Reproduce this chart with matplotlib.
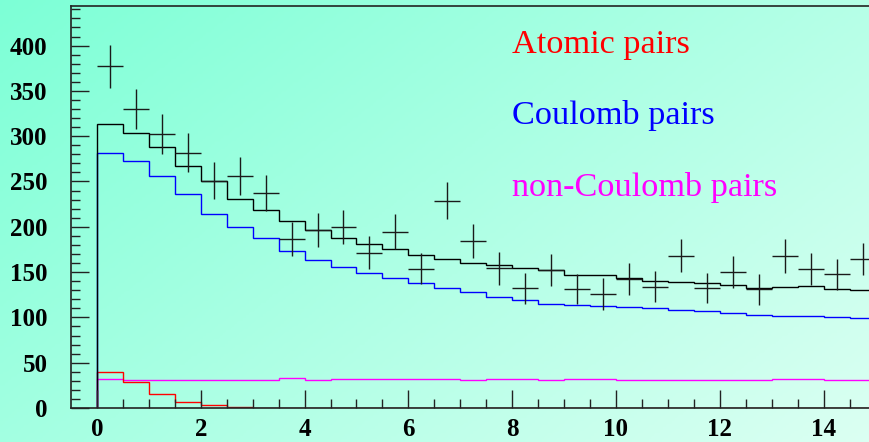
import numpy as np
import matplotlib
matplotlib.use("Agg")
import matplotlib.pyplot as plt
from matplotlib.colors import LinearSegmentedColormap

# bin edges: 30 bins of width 0.5 from 0 to 15
bin_edges = np.arange(0, 15.01, 0.5)
bin_centers = bin_edges[:-1] + 0.25

total_pairs = [313, 304, 288, 267, 251, 231, 219, 206, 196, 188,
               181, 175, 168.5, 164, 160, 158, 154, 152, 147, 146.5,
               144, 140.5, 139, 137.6, 135.8, 132, 134, 135, 131.7, 130.6]
coulomb_pairs = [281.5, 272.6, 256.4, 235.8, 214.5, 199.8, 188, 173, 163, 156,
                 148.6, 143, 137.6, 132, 128, 123, 119, 115, 113.5, 113,
                 112, 110, 108, 107, 105, 102.5, 102, 101.5, 100, 99.3]
atomic_pairs = [39.4, 28.4, 15, 6.3, 3, 1.1, 0.4, 0.4, 0.4, 0,
                0, 0, 0, 0, 0, 0, 0, 0, 0, 0,
                0, 0, 0, 0, 0, 0, 0, 0, 0, 0]
noncoulomb_pairs = [32, 31.3, 31.3, 31.3, 31.3, 31.3, 31.3, 32.7, 31.3, 31.8,
                    31.8, 31.8, 31.5, 31.5, 30.9, 31.8, 31.8, 30.9, 31.8, 31.8,
                    31.3, 31.3, 31.3, 30.5, 30.5, 30.5, 31.8, 31.8, 31.3, 30.5]

data_counts = [377, 329.7, 302, 282, 251, 256, 237, 187, 196, 199.4,
               171.5, 194.6, 153.8, 228.8, 184.3, 154, 132, 152, 131, 125.8,
               142, 134, 168, 132.8, 150.5, 131, 168, 153, 147.5, 164.8]
data_errors = [23.4, 22.1, 22.1, 21, 20.4, 20.6, 19.9, 18.8, 18.8, 18.8,
               18.4, 19.3, 17.3, 20.2, 18.8, 17.7, 17.1, 17.7, 16.6, 17.3,
               17.7, 17.1, 18.4, 16.6, 17.7, 17.1, 18.8, 17.7, 17.3, 17.7]

W, H = 869, 442
fig = plt.figure(figsize=(W / 100, H / 100), dpi=100)

# diagonal gradient background over the whole figure
bg = fig.add_axes([0, 0, 1, 1], zorder=0)
gx, gy = np.meshgrid(np.linspace(0, 1, 300), np.linspace(0, 1, 150))
grad = (gx * 0.6 + gy * 0.4)
cmap = LinearSegmentedColormap.from_list("bg", [(0.49, 1.0, 0.84), (0.86, 1.0, 0.95)])
bg.imshow(grad, cmap=cmap, aspect="auto", extent=[0, 1, 0, 1], origin="upper")
bg.axis("off")

left, bottom = 71 / W, 34 / H
ax = fig.add_axes([left, bottom, 804.5 / W, 402 / H], zorder=1)
ax.patch.set_alpha(0)

ax.stairs(noncoulomb_pairs, bin_edges, baseline=0, color="#ff00ff", lw=1)
ax.stairs(atomic_pairs, bin_edges, baseline=0, color="#ff0000", lw=1)
ax.stairs(coulomb_pairs, bin_edges, baseline=0, color="#0000ff", lw=1)
ax.stairs(total_pairs, bin_edges, baseline=0, color="black", lw=1)
ax.errorbar(bin_centers, data_counts, yerr=data_errors, xerr=0.25,
            fmt="none", ecolor="#1a1a1a", elinewidth=1, capsize=0)

ax.set_xlim(-0.5, 15)
ax.set_ylim(0, 443.7)
ax.set_xticks(np.arange(0, 15, 2))
ax.set_xticks(np.arange(0, 15.01, 0.5), minor=True)
ax.set_yticks(np.arange(0, 401, 50))
ax.set_yticks(np.arange(0, 441, 10), minor=True)

tickfont = dict(family="Liberation Serif", weight="bold", size=18)
ax.set_xticklabels([str(v) for v in range(0, 15, 2)], **tickfont)
ax.set_yticklabels([str(v) for v in range(0, 401, 50)], **tickfont)
ax.tick_params(which="both", direction="in", color="#222222", width=1,
               top=False, right=False)
ax.tick_params(which="major", length=13)
ax.tick_params(which="minor", length=6.5)
ax.tick_params(axis="x", which="major", pad=7)
ax.tick_params(axis="y", which="major", pad=17)
for s in ax.spines.values():
    s.set_color("#222222")
    s.set_linewidth(1.2)

labfont = dict(family="Liberation Serif", size=24.7, va="baseline", ha="left")
ax.text(8.0, 391.8, "Atomic pairs", color="#ff0000", **labfont)
ax.text(8.0, 313.5, "Coulomb pairs", color="#0000ff", **labfont)
ax.text(8.0, 234.3, "non-Coulomb pairs", color="#ff00ff", **labfont)

fig.savefig("out.png", dpi=100)
